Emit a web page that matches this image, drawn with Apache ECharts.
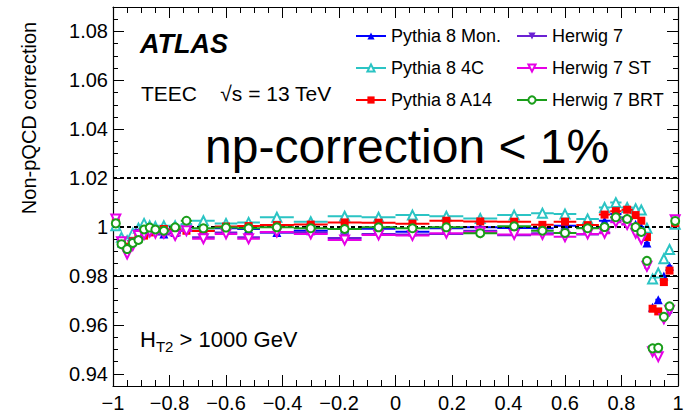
<!DOCTYPE html>
<html>
<head>
<meta charset="utf-8">
<script src="https://cdn.jsdelivr.net/npm/echarts@6/dist/echarts.min.js"></script>
<style>html,body{margin:0;padding:0;background:#fff}#c{width:695px;height:413px}</style>
</head>
<body>
<div id="c"></div>
<script>
// cos(phi) bin edges
const binEdges = [-1, -0.98, -0.96, -0.94, -0.92, -0.90, -0.88, -0.86, -0.84, -0.80, -0.76, -0.72, -0.64, -0.56, -0.48, -0.36, -0.24, -0.12,
  0, 0.12, 0.24, 0.36, 0.48, 0.56, 0.64, 0.72, 0.76, 0.80, 0.84, 0.86, 0.88, 0.90, 0.92, 0.94, 0.96, 0.98, 1.0];

const pythiaMon = [1.0012, 0.9935, 0.9925, 0.9945, 0.9962, 0.9975, 0.9995, 0.9985, 0.9972, 0.9978, 1.0010, 0.9985, 0.9995, 0.9992, 0.9978, 0.9985, 0.9992, 0.9993,
  0.9981, 0.9995, 0.9999, 0.9996, 0.9995, 1.0005, 0.9996, 1.0026, 1.0053, 1.0039, 1.0012, 1.0000, 0.9935, 0.9672, 0.9703, 0.9800, 0.9840, 1.0010];
const pythia4C = [1.0005, 0.9958, 0.9944, 0.9975, 0.9995, 1.0015, 1.0005, 1.0002, 1.0005, 1.0005, 1.0012, 1.0026, 1.0015, 1.0019, 1.0040, 1.0022, 1.0044, 1.0040,
  1.0049, 1.0044, 1.0035, 1.0049, 1.0057, 1.0053, 1.0033, 1.0080, 1.0100, 1.0080, 1.0075, 1.0070, 0.9995, 0.9788, 0.9812, 0.9870, 0.9908, 1.0012];
const pythiaA14 = [1.0019, 0.9938, 0.9920, 0.9942, 0.9958, 0.9965, 0.9978, 0.9988, 0.9992, 0.9992, 0.9985, 0.9984, 1.0002, 1.0004, 1.0008, 1.0010, 1.0019, 1.0018,
  1.0014, 1.0026, 1.0023, 1.0022, 1.0009, 1.0022, 1.0008, 1.0051, 1.0065, 1.0071, 1.0049, 1.0026, 0.9959, 0.9666, 0.9655, 0.9775, 0.9822, 1.0016];
const herwig7 = [1.0030, 0.9935, 0.9905, 0.9935, 0.9975, 0.9975, 0.9985, 0.9980, 0.9970, 0.9975, 0.9985, 0.9958, 0.9978, 0.9958, 0.9978, 0.9978, 0.9955, 0.9972,
  0.9970, 0.9972, 0.9985, 0.9967, 0.9975, 0.9976, 0.9970, 0.9978, 1.0026, 1.0012, 0.9980, 0.9950, 0.9835, 0.9497, 0.9480, 0.9620, 0.9650, 1.0024];
const herwig7ST = [1.0033, 0.9940, 0.9890, 0.9925, 0.9965, 0.9970, 0.9980, 0.9975, 0.9975, 0.9965, 0.9985, 0.9952, 0.9972, 0.9952, 0.9980, 0.9972, 0.9947, 0.9968,
  0.9965, 0.9975, 0.9980, 0.9970, 0.9970, 0.9960, 0.9972, 0.9975, 1.0020, 1.0010, 0.9975, 0.9950, 0.9840, 0.9490, 0.9470, 0.9625, 0.9660, 1.0030];
const herwig7BRT = [1.0015, 0.9930, 0.9910, 0.9935, 0.9947, 0.9990, 0.9998, 0.9990, 0.9985, 0.9999, 1.0026, 0.9995, 0.9998, 0.9995, 0.9999, 0.9995, 0.9992, 0.9999,
  0.9995, 0.9999, 0.9975, 1.0003, 0.9985, 0.9976, 0.9995, 1.0000, 1.0040, 1.0033, 1.0000, 0.9980, 0.9862, 0.9504, 0.9506, 0.9633, 0.9676, 1.0025];

const referenceLines = [1.02, 1.00, 0.98];

const FONT = 'Liberation Sans';

function histData(vals) {
  const d = [];
  vals.forEach((v, i) => {
    const lo = binEdges[i], hi = binEdges[i + 1], c = (lo + hi) / 2;
    d.push({ value: [lo, v], symbol: 'none' });
    d.push({ value: [c, v] });
    d.push({ value: [hi, v], symbol: 'none' });
    d.push({ value: ['-', '-'], symbol: 'none' });
  });
  return d;
}

const styles = [
  { name: 'Pythia 8 Mon.', vals: pythiaMon, color: '#0000ff', symbol: 'triangle', rot: 0, size: 9, empty: false },
  { name: 'Pythia 8 4C', vals: pythia4C, color: '#2bc4c4', symbol: 'emptyTriangle', rot: 0, size: 9, empty: true },
  { name: 'Pythia 8 A14', vals: pythiaA14, color: '#ff0000', symbol: 'rect', rot: 0, size: 8, empty: false },
  { name: 'Herwig 7', vals: herwig7, color: '#6b21d3', symbol: 'triangle', rot: 180, size: 9, empty: false },
  { name: 'Herwig 7 ST', vals: herwig7ST, color: '#e600e6', symbol: 'emptyTriangle', rot: 180, size: 9, empty: true },
  { name: 'Herwig 7 BRT', vals: herwig7BRT, color: '#1a9e1a', symbol: 'emptyCircle', rot: 0, size: 8, empty: true }
];

const series = styles.map((s, k) => {
  const o = {
    name: s.name,
    type: 'line',
    xAxisIndex: 0,
    yAxisIndex: 0,
    data: histData(s.vals),
    symbol: s.symbol,
    symbolSize: s.size,
    symbolRotate: s.rot,
    connectNulls: false,
    lineStyle: { color: s.color, width: 2 },
    itemStyle: { color: s.color, borderColor: s.color, borderWidth: s.empty ? 1.3 : 0 },
    emphasis: { disabled: true },
    animation: false,
    z: 3 + k
  };
  if (k === 0) {
    o.markLine = {
      silent: true,
      symbol: ['none', 'none'],
      label: { show: false },
      lineStyle: { color: '#000', type: [4, 3], width: 2 },
      data: referenceLines.map(v => ({ yAxis: v })),
      animation: false
    };
  }
  return o;
});

const axisLine = { show: true, onZero: false, lineStyle: { color: '#000', width: 1.2 } };
const xLabelFmt = v => {
  const r = parseFloat(Number(v).toFixed(2));
  return (r < 0 ? '\u2212' : '') + String(Math.abs(r));
};

const xBase = {
  type: 'value', min: -1, max: 1, interval: 0.2,
  axisLine: axisLine,
  axisTick: { show: true, inside: true, length: 11, lineStyle: { color: '#000', width: 1 } },
  minorTick: { show: true, splitNumber: 4, length: 6, lineStyle: { color: '#000', width: 1 } },
  splitLine: { show: false }, minorSplitLine: { show: false }
};
const yMajor = {
  type: 'value', min: 0.935, max: 1.09, minInterval: 0.02, maxInterval: 0.02, splitNumber: 8,
  axisLine: axisLine,
  axisTick: { show: true, inside: true, length: 11, lineStyle: { color: '#000', width: 1 } },
  splitLine: { show: false }
};
const yMinor = {
  type: 'value', min: 0.935, max: 1.09, interval: 0.005,
  axisLine: { show: false, onZero: false },
  axisTick: { show: true, inside: true, length: 5, lineStyle: { color: '#000', width: 1 } },
  axisLabel: { show: false },
  splitLine: { show: false }
};

const legendCommon = {
  orient: 'vertical', top: 27, padding: 0,
  itemWidth: 30, itemHeight: 9, itemGap: 14,
  textStyle: { fontSize: 18, color: '#000', fontFamily: FONT, lineHeight: 18 },
  selectedMode: false
};

const option = {
  backgroundColor: '#fff',
  animation: false,
  grid: { left: 113, right: 17, top: 7, bottom: 25, containLabel: false },
  xAxis: [
    Object.assign({}, xBase, { position: 'bottom',
      axisLabel: { formatter: xLabelFmt, fontSize: 20, color: '#000', margin: 7, fontFamily: FONT } }),
    Object.assign({}, xBase, { position: 'top', axisLabel: { show: false } })
  ],
  yAxis: [
    Object.assign({}, yMajor, { position: 'left',
      axisLabel: { showMinLabel: false, showMaxLabel: false, fontSize: 20, color: '#000', margin: 5, fontFamily: FONT } }),
    Object.assign({}, yMinor, { position: 'left' }),
    Object.assign({}, yMajor, { position: 'right', axisLabel: { show: false } }),
    Object.assign({}, yMinor, { position: 'right' })
  ],
  legend: [
    Object.assign({}, legendCommon, { left: 355, data: styles.slice(0, 3).map(s => s.name) }),
    Object.assign({}, legendCommon, { left: 516, data: styles.slice(3).map(s => s.name) })
  ],
  graphic: [
    { type: 'text', x: 140, y: 30, z: 100,
      style: { text: 'ATLAS', font: 'italic bold 27px ' + FONT, fill: '#000' } },
    { type: 'text', x: 141, y: 83, z: 100,
      style: { text: 'TEEC    \u221As = 13 TeV', font: '21px ' + FONT, fill: '#000' } },
    { type: 'text', x: 205, y: 122, z: 100,
      style: { text: 'np-correction < 1%', font: '48px ' + FONT, fill: '#000' } },
    { type: 'text', x: 140, y: 328, z: 100,
      style: { text: '{a|H}{s|T2}{a| > 1000 GeV}', fill: '#000',
        rich: {
          a: { fontSize: 22, fontFamily: FONT, fill: '#000', lineHeight: 26, verticalAlign: 'top' },
          s: { fontSize: 15, fontFamily: FONT, fill: '#000', lineHeight: 26, verticalAlign: 'bottom' }
        } } },
    { type: 'text', x: 29, y: 118, rotation: Math.PI / 2, z: 100,
      style: { text: 'Non-pQCD correction', font: '20px ' + FONT, fill: '#000', align: 'center', verticalAlign: 'middle' } }
  ],
  series: series
};

const chart = echarts.init(document.getElementById('c'), null, { renderer: 'svg' });
chart.setOption(option);
</script>
</body>
</html>
